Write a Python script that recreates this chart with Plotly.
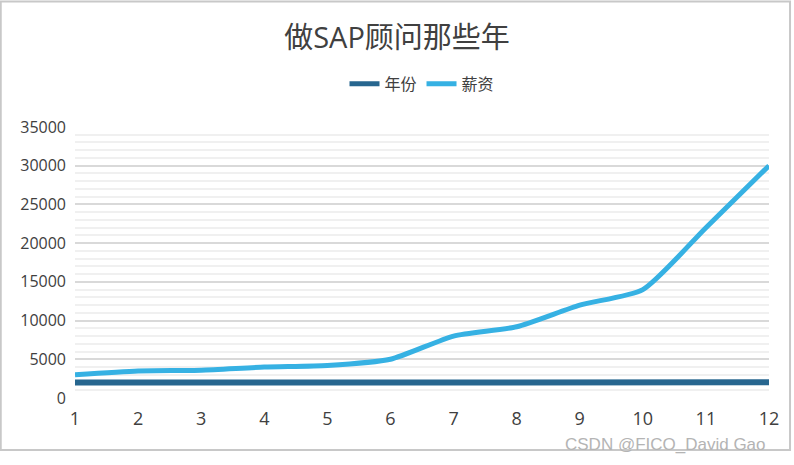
import plotly.graph_objects as go

x_points = [1, 2, 3, 4, 5, 6, 7, 8, 9, 10, 11, 12]
years = [2008, 2009, 2010, 2011, 2012, 2013, 2014, 2015, 2016, 2017, 2018, 2019]
salary = [3000, 3500, 3600, 4000, 4200, 5000, 8000, 9200, 12000, 14000, 22000, 30000]
y_ticks = [0, 5000, 10000, 15000, 20000, 25000, 30000, 35000]

FONT = "Open Sans, Noto Sans CJK SC, sans-serif"

fig = go.Figure()
fig.add_trace(go.Scatter(x=x_points, y=years, name="年份", mode="lines",
                         line=dict(color="#27668F", width=6)))
fig.add_trace(go.Scatter(x=x_points, y=salary, name="薪资", mode="lines",
                         line=dict(color="#36B1E3", width=5, shape="spline", smoothing=0.6)))

fig.update_layout(
    width=794, height=465,
    margin=dict(l=75, r=25, t=127, b=67),
    paper_bgcolor="white", plot_bgcolor="white",
    title=dict(text="做SAP顾问那些年", x=0.5, xanchor="center", y=0.918, yanchor="middle",
               font=dict(family=FONT, size=29, color="#404040")),
    legend=dict(orientation="h", x=0.5, xanchor="center", y=1.159, yanchor="middle",
                font=dict(family=FONT, size=16, color="#404040"),
                tracegroupgap=0, itemsizing="constant"),
    showlegend=True,
    xaxis=dict(range=[1, 12], tickvals=x_points, showgrid=False, zeroline=False,
               showline=False, ticks="", ticklabelstandoff=8,
               tickfont=dict(family=FONT, size=18, color="#404040")),
    yaxis=dict(range=[0, 35000], tickvals=y_ticks, ticktext=[str(v) for v in y_ticks],
               showgrid=True, gridcolor="#D9D9D9", gridwidth=1.5,
               zeroline=False, showline=False, ticks="", ticklabelstandoff=8,
               minor=dict(dtick=1000, showgrid=True, gridcolor="#F0F0F0", gridwidth=1.5),
               tickfont=dict(family=FONT, size=16, color="#404040")),
    shapes=[dict(type="rect", xref="paper", yref="paper",
                 x0=-0.107, x1=1.0303, y0=-0.192, y1=1.463,
                 line=dict(color="#C8C8C8", width=2), layer="above")],
    annotations=[dict(text="CSDN @FICO_David Gao", xref="paper", yref="paper",
                      x=0.998, y=-0.172, xanchor="right", yanchor="middle", showarrow=False,
                      font=dict(family="Liberation Sans, Arial, sans-serif", size=17, color="#B4B4B4"))],
)

fig.write_html("out.html", config={"displayModeBar": False},
               post_script="document.body.style.margin='0';document.body.style.padding='0';")
